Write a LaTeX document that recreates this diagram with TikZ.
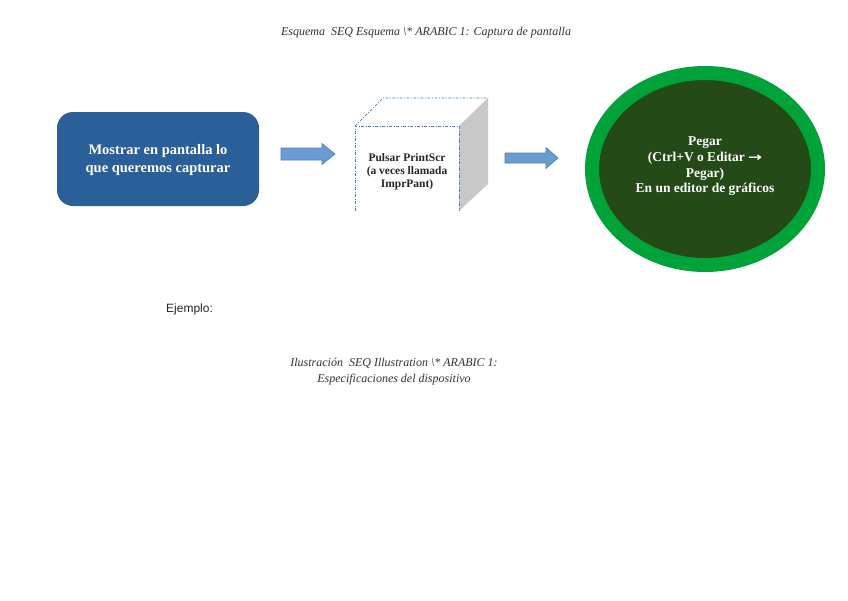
\documentclass[tikz,border=0pt]{standalone}
\usepackage{fontspec}
\usepackage{graphicx}
\setmainfont{Liberation Serif}
\newfontfamily\arialf{Liberation Sans}
\newfontfamily\symf{DejaVu Sans}
\begin{document}
\begin{tikzpicture}[x=1pt,y=-1pt,
  caption/.style={font=\fontsize{12}{16}\selectfont\itshape, text=black!80, align=center, inner sep=0pt},
  boxtext/.style={font=\fontsize{14.5}{18}\selectfont\bfseries, text=white, align=center, inner sep=0pt},
  cubetext/.style={font=\fontsize{11.5}{13.2}\selectfont\bfseries, text=black!85, align=center, inner sep=0pt},
  blockarrow/.style={fill=arrowfill, draw=arrowdraw, line width=0.6pt},
  cubeline/.style={draw=cubeblue, line width=0.7pt, dash pattern=on 3pt off 1.5pt on 1pt off 1.5pt}
]
\definecolor{boxblue}{RGB}{43,95,152}
\definecolor{arrowfill}{RGB}{106,155,209}
\definecolor{arrowdraw}{RGB}{80,125,185}
\definecolor{ringgreen}{RGB}{0,163,58}
\definecolor{darkgreen}{RGB}{36,74,24}
\definecolor{facegray}{RGB}{200,200,200}
\definecolor{cubeblue}{RGB}{74,126,187}
\useasboundingbox (0,0) rectangle (848,600);
\fill[white] (0,0) rectangle (848,600);

% top caption
\node[caption] (cap1) at (426,33) {Esquema \ SEQ Esquema \textbackslash* ARABIC 1: Captura de pantalla};

% rounded box
\fill[boxblue, rounded corners=16pt] (57,112) rectangle (259,206);
\node[boxtext] (box) at (158,160) {Mostrar en pantalla lo\\que queremos capturar};

% arrow 1
\filldraw[blockarrow] (281,148) -- (322,148) -- (322,143.5) -- (335,154) -- (322,164.5) -- (322,160) -- (281,160) -- cycle;

% cube
\fill[facegray] (459,126) -- (488,98) -- (488,184) -- (459,211) -- cycle;
\draw[cubeline] (355,211) -- (355,126) -- (459,126) -- (459,211);
\draw[cubeline] (355,126) -- (383,98) -- (488,98);
\node[cubetext] (cube) at (407,172) {Pulsar PrintScr\\(a veces llamada\\ImprPant)};

% arrow 2
\filldraw[blockarrow] (505,153) -- (546,153) -- (546,147.5) -- (558,158) -- (546,168.5) -- (546,163) -- (505,163) -- cycle;

% ellipse
\filldraw[fill=darkgreen, draw=ringgreen, line width=14pt] (705,169) ellipse [x radius=113, y radius=96];
\node[boxtext, font=\fontsize{13.5}{15.7}\selectfont\bfseries] (paste) at (705,166.5) {Pegar\\(Ctrl+V o Editar {\symf\fontsize{12}{12}\selectfont\scalebox{1.4}[1]{→}}\\Pegar)\\En un editor de gráficos};

% Ejemplo
\node[font=\arialf\fontsize{12}{14}\selectfont, text=black!85, inner sep=0pt, anchor=west] (ej) at (166,309.5) {Ejemplo:};

% bottom caption
\node[caption] (cap2) at (394,372) {Ilustración \ SEQ Illustration \textbackslash* ARABIC 1:\\Especificaciones del dispositivo};
\end{tikzpicture}
\end{document}
